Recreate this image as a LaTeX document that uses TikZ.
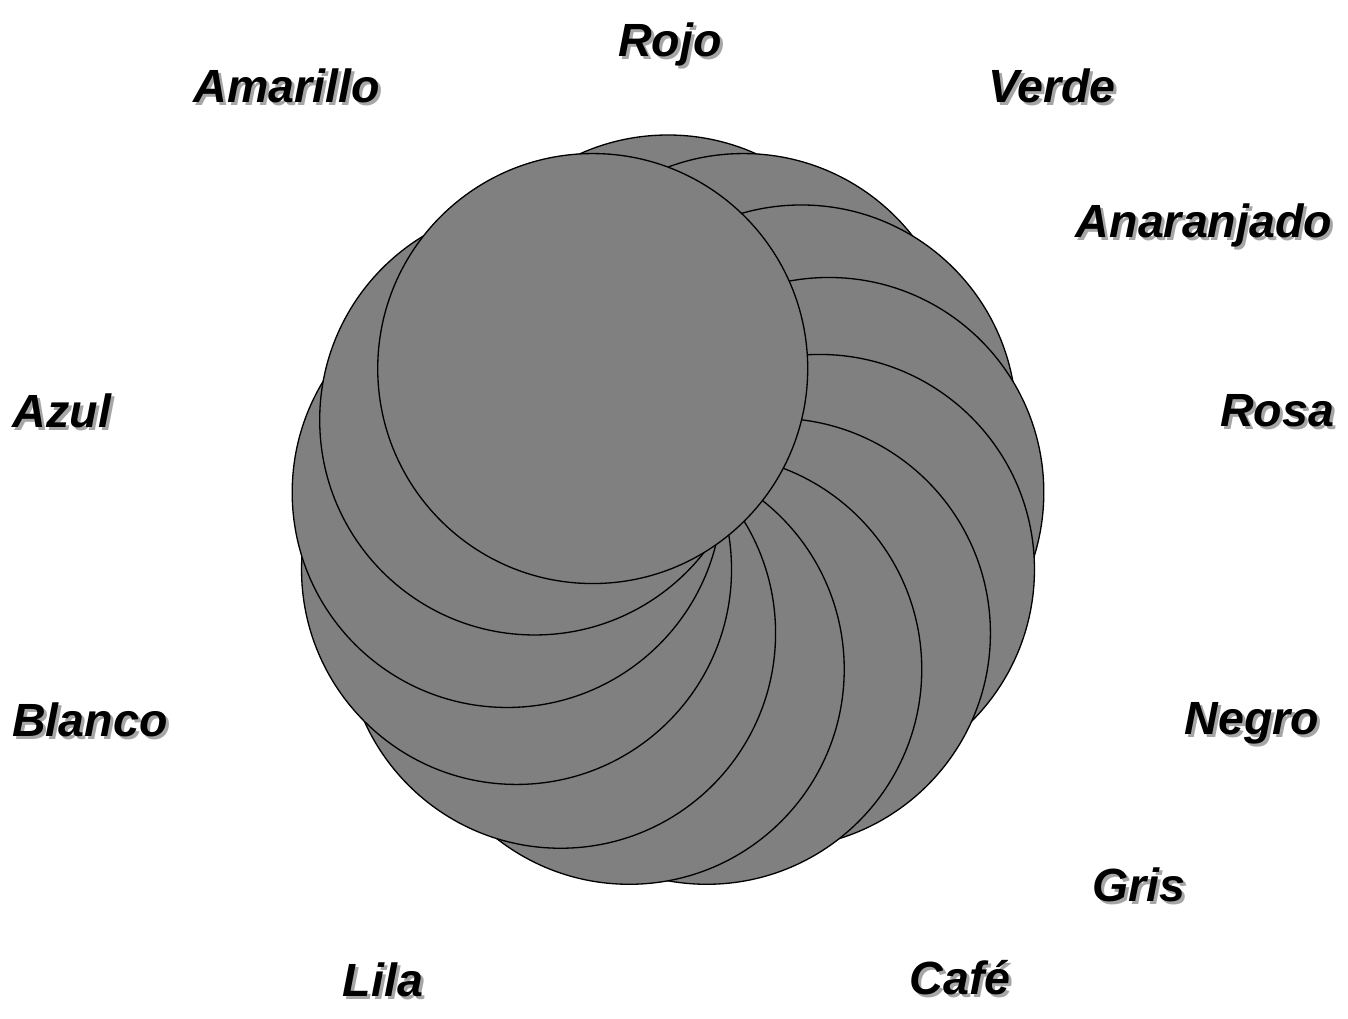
\documentclass[tikz,border=0pt]{standalone}
\usepackage{fontspec}
\setmainfont{Liberation Sans}

% a word with a soft grey shadow just below and to the right
\newcommand\shadowed[1]{\makebox[0pt][l]{\hspace{0.06cm}\raisebox{-0.06cm}{\textcolor{black!35}{#1}}}#1}

\begin{document}
\begin{tikzpicture}[x=1cm, y=1cm,
    disc/.style={draw=black, fill=gray, line width=0.75pt},
    word/.style={anchor=base, inner sep=0pt, text=black, font=\fontsize{26.5}{32}\selectfont\bfseries\itshape}]
  \useasboundingbox (0,0) rectangle (26.96,20.38);
  \coordinate (O) at (13.36,10.14);
  % thirteen discs round O, each one over the one before
  \foreach \k in {0,...,12}
    \draw[disc] (O) ++({90-\k*360/13}:3.24) circle[radius=4.3];
  % the colour names
  \foreach \name/\x/\y/\txt in {rojo/13.40/19.24/Rojo, verde/21.04/18.32/Verde,
      anaranjado/24.08/15.62/Anaranjado, rosa/25.54/11.84/Rosa, negro/25.04/5.68/Negro,
      gris/22.78/2.34/Gris, cafe/19.20/0.48/Café, lila/7.66/0.44/Lila,
      blanco/1.80/5.64/Blanco, azul/1.24/11.82/Azul, amarillo/5.74/18.32/Amarillo}
    \node[word] (\name) at (\x,\y) {\shadowed{\txt}};
\end{tikzpicture}
\end{document}
